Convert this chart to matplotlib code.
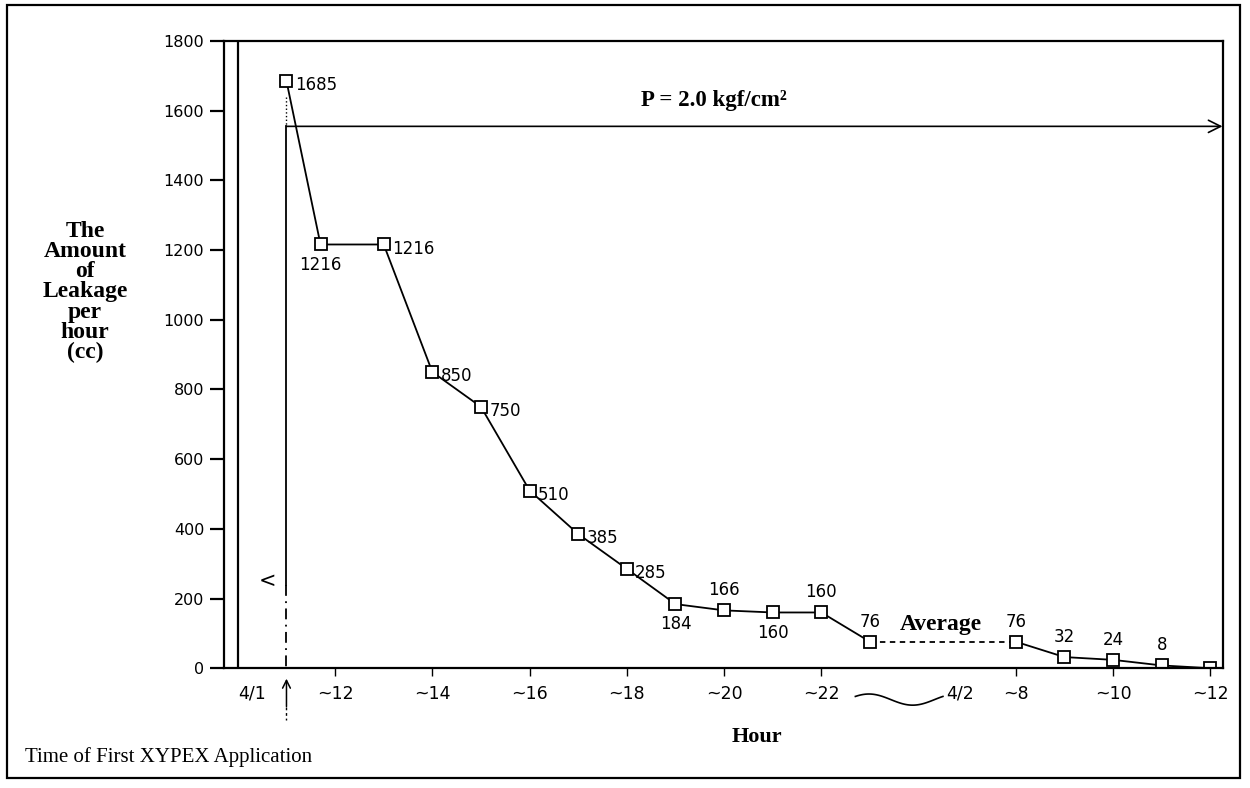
import numpy as np
import matplotlib
matplotlib.use('Agg')
import matplotlib.pyplot as plt
from matplotlib.patches import Rectangle

# hour positions (4/2 ~8 placed at 26 after the break)
hours = [11, 11.7, 13, 14, 15, 16, 17, 18, 19, 20, 21, 22, 23, 26, 27, 28, 29, 30]
leak = [1685, 1216, 1216, 850, 750, 510, 385, 285, 184, 166, 160, 160, 76, 76, 32, 24, 8, 0]
point_labels = ['1685', '1216', '1216', '850', '750', '510', '385', '285', '184',
                '166', '160', '160', '76', '76', '32', '24', '8', '']
label_side = ['r', 'b', 'r', 'r', 'r', 'r', 'r', 'r', 'b',
              't', 'b', 't', 't', 't', 't', 't', 't', 't']

xtick_pos = [12, 14, 16, 18, 20, 22, 26, 28, 30]
xtick_lab = ['~12', '~14', '~16', '~18', '~20', '~22', '~8', '~10', '~12']
ytick_pos = [0, 200, 400, 600, 800, 1000, 1200, 1400, 1600, 1800]

serif = 'Liberation Serif'
hand = 'DejaVu Sans'

fig = plt.figure(figsize=(12.5, 7.88), dpi=100)
ax = fig.add_axes([0.179, 0.152, 0.799, 0.796])
ax.set_xlim(9.71, 30.25)
ax.set_ylim(0, 1800)

# main curve, dashed across the overnight break
ax.plot(hours[:13], leak[:13], color='black', lw=1.3)
ax.plot(hours[12:14], leak[12:14], color='black', lw=1.3, ls=(0, (3, 2.5)))
ax.plot(hours[13:], leak[13:], color='black', lw=1.3)
ax.plot(hours, leak, ls='none', marker='s', ms=8, mfc='white', mec='black', mew=1.3)

for h, v, t, s in zip(hours, leak, point_labels, label_side):
    if s == 'r':
        ax.annotate(t, (h, v), xytext=(6, -3), textcoords='offset points',
                    ha='left', va='center', fontsize=12, family=hand)
    elif s == 'b':
        ax.annotate(t, (h, v), xytext=(0, -8), textcoords='offset points',
                    ha='center', va='top', fontsize=12, family=hand)
    else:
        ax.annotate(t, (h, v), xytext=(0, 8), textcoords='offset points',
                    ha='center', va='bottom', fontsize=12, family=hand)

# 4/1 line next to the axis
ax.axvline(10, color='black', lw=1.6)

# first application line
ax.plot([11, 11], [1555, 240], color='black', lw=1.3)
ax.plot([11, 11], [240, 0], color='black', lw=1.3, ls=(0, (6, 3, 1, 3)))
ax.plot([11, 11], [1640, 1555], color='black', lw=1, ls=':')
ax.annotate('', xy=(30.25, 1555), xytext=(11, 1555),
            arrowprops=dict(arrowstyle='->', color='black', lw=1.2,
                            mutation_scale=22, shrinkA=0, shrinkB=0))
ax.text(19.8, 1630, 'P = 2.0 kgf/cm\u00b2', family=serif, weight='bold',
        fontsize=16.5, ha='center', va='center')
ax.text(10.62, 250, '<', fontsize=15, family=hand, ha='center', va='center')
ax.text(24.45, 125, 'Average', family=serif, weight='bold', fontsize=17,
        ha='center', va='center')

# axes styling
for sp in ax.spines.values():
    sp.set_linewidth(1.6)
ax.set_yticks(ytick_pos)
ax.set_yticklabels([str(v) for v in ytick_pos], family=hand, fontsize=11.5)
ax.set_xticks(xtick_pos)
ax.set_xticklabels(xtick_lab, family=hand, fontsize=12.5)
ax.tick_params(axis='y', direction='out', length=10, width=1.6, pad=4)
ax.tick_params(axis='x', direction='out', length=6, width=1, pad=6)

# extra x labels below the axis
ax.text(10.3, -72, '4/1', family=hand, fontsize=12.5, ha='center', va='center')
ax.annotate('', xy=(11, -30), xytext=(11, -110),
            arrowprops=dict(arrowstyle='->', color='black', lw=1.1,
                            mutation_scale=14, shrinkA=0, shrinkB=0),
            annotation_clip=False)
ax.plot([11, 11], [-110, -150], color='black', lw=1, ls=(0, (2, 2)), clip_on=False)
wx = np.linspace(22.7, 24.5, 60)
ax.plot(wx, -90 + 16 * np.sin((wx - 22.7) / 1.8 * 2 * np.pi + 0.6), color='black',
        lw=1.2, clip_on=False)
ax.text(24.85, -72, '4/2', family=hand, fontsize=12.5, ha='center', va='center')

ax.set_xlabel('Hour', family=serif, weight='bold', fontsize=16)
ax.xaxis.set_label_coords(0.534, -0.094)
ax.set_ylabel('The\nAmount\nof\nLeakage\nper\nhour\n(cc)', family=serif,
              weight='bold', fontsize=17, rotation=0, linespacing=0.95,
              ha='center', va='center')
ax.yaxis.set_label_coords(-0.139, 0.6)

fig.text(0.02, 0.039, 'Time of First XYPEX Application', family=serif,
         fontsize=15, ha='left', va='center')

# outer frame
fig.add_artist(Rectangle((0.0056, 0.0127), 0.986, 0.981, transform=fig.transFigure,
                         fill=False, lw=1.6, color='black'))

fig.savefig('out.png', dpi=100)
